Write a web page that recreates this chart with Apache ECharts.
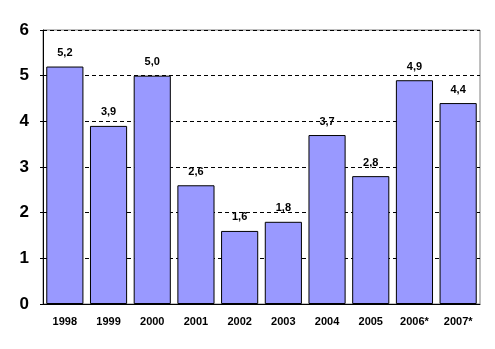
<!DOCTYPE html>
<html><head><meta charset="utf-8">
<script src="https://cdn.jsdelivr.net/npm/echarts@6/dist/echarts.min.js"></script>
<style>html,body{margin:0;padding:0;background:#fff}#c{width:495px;height:349px}</style>
</head><body><div id="c"></div>
<script>
const categories = ['1998','1999','2000','2001','2002','2003','2004','2005','2006*','2007*'];
const values = [5.2, 3.9, 5.0, 2.6, 1.6, 1.8, 3.7, 2.8, 4.9, 4.4];
const yTicks = [0,1,2,3,4,5,6];
const chart = echarts.init(document.getElementById('c'), null, {renderer:'canvas'});
chart.setOption({
  animation:false,
  grid:{left:43,right:15,top:30,bottom:45,show:true,borderColor:'#808080',borderWidth:1,backgroundColor:'transparent'},
  xAxis:{type:'category',data:categories,
    axisLine:{lineStyle:{color:'#000',width:1}},
    axisTick:{show:false},
    axisLabel:{fontFamily:'Liberation Sans',fontWeight:'bold',fontSize:11,color:'#000',margin:12,interval:0}},
  yAxis:{type:'value',min:0,max:6,interval:1,
    axisLine:{show:true,lineStyle:{color:'#000',width:1}},
    axisTick:{show:true,length:3,lineStyle:{color:'#000'}},
    splitLine:{show:true,lineStyle:{color:'#000',type:[4,3],width:1}},
    axisLabel:{fontFamily:'Liberation Sans',fontWeight:'bold',fontSize:17,color:'#000',margin:14,
      formatter:v=>yTicks.includes(v)?String(v):''}},
  series:[{type:'bar',data:values,barCategoryGap:'15%',
    itemStyle:{color:'#9999FF',borderColor:'#000',borderWidth:1},
    label:{show:true,position:'top',distance:8,fontFamily:'Liberation Sans',fontWeight:'bold',fontSize:11,color:'#000',
      formatter:p=>p.value.toFixed(1).replace('.',',')}}]
});
</script></body></html>
